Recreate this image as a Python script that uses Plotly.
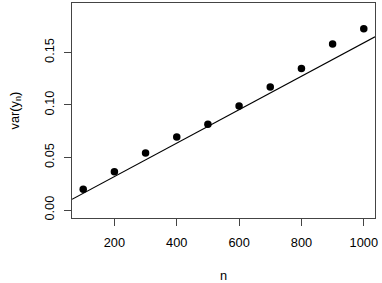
import plotly.graph_objects as go
import math

n_vals = [100, 200, 300, 400, 500, 600, 700, 800, 900, 1000]
var_vals = [0.0197, 0.0365, 0.0543, 0.0695, 0.0816, 0.099, 0.117, 0.1346, 0.158, 0.1724]
line_intercept = 0.0
line_slope = 1 / (2000 * math.pi)
x_ticks = [200, 400, 600, 800, 1000]
y_ticks = [0.00, 0.05, 0.10, 0.15]
y_tick_text = ["0.00", "0.05", "0.10", "0.15"]

x_range = [64.0, 1036.0]
y_range = [-0.0076, 0.197]

fig = go.Figure()
fig.add_trace(go.Scatter(
    x=x_range,
    y=[line_intercept + line_slope * v for v in x_range],
    mode="lines", line=dict(color="black", width=1.2), hoverinfo="skip"))
fig.add_trace(go.Scatter(
    x=n_vals, y=var_vals, mode="markers",
    marker=dict(color="black", size=7.5, line=dict(width=0))))

font = dict(family="Liberation Sans, Arial, sans-serif", size=12.8, color="black")
axis_common = dict(showline=True, mirror=True, linecolor="#444", linewidth=1,
                   ticks="outside", ticklen=7, tickcolor="#444", tickwidth=1,
                   showgrid=False, zeroline=False, tickfont=font, automargin=False)
fig.update_layout(
    width=382, height=283,
    margin=dict(l=72, r=7, t=3, b=65),
    plot_bgcolor="white", paper_bgcolor="white",
    showlegend=False,
    xaxis=dict(range=x_range, tickvals=x_ticks, ticklabelstandoff=6, **axis_common),
    yaxis=dict(range=y_range, tickvals=y_ticks, ticktext=y_tick_text, tickangle=-90,
               ticklabelstandoff=5, **axis_common),
    annotations=[
        dict(text="n", xref="paper", yref="paper", x=0.5, y=0, yshift=-57,
             showarrow=False, font=font, xanchor="center", yanchor="middle"),
        dict(text="var(y<sub>n</sub>)", xref="paper", yref="paper", x=0, xshift=-57,
             y=0.5, showarrow=False, font=font, textangle=-90,
             xanchor="center", yanchor="middle"),
    ],
)
fig.write_html("out.html", config={"displayModeBar": False},
               post_script="document.body.style.margin='0';document.body.style.overflow='hidden';")
